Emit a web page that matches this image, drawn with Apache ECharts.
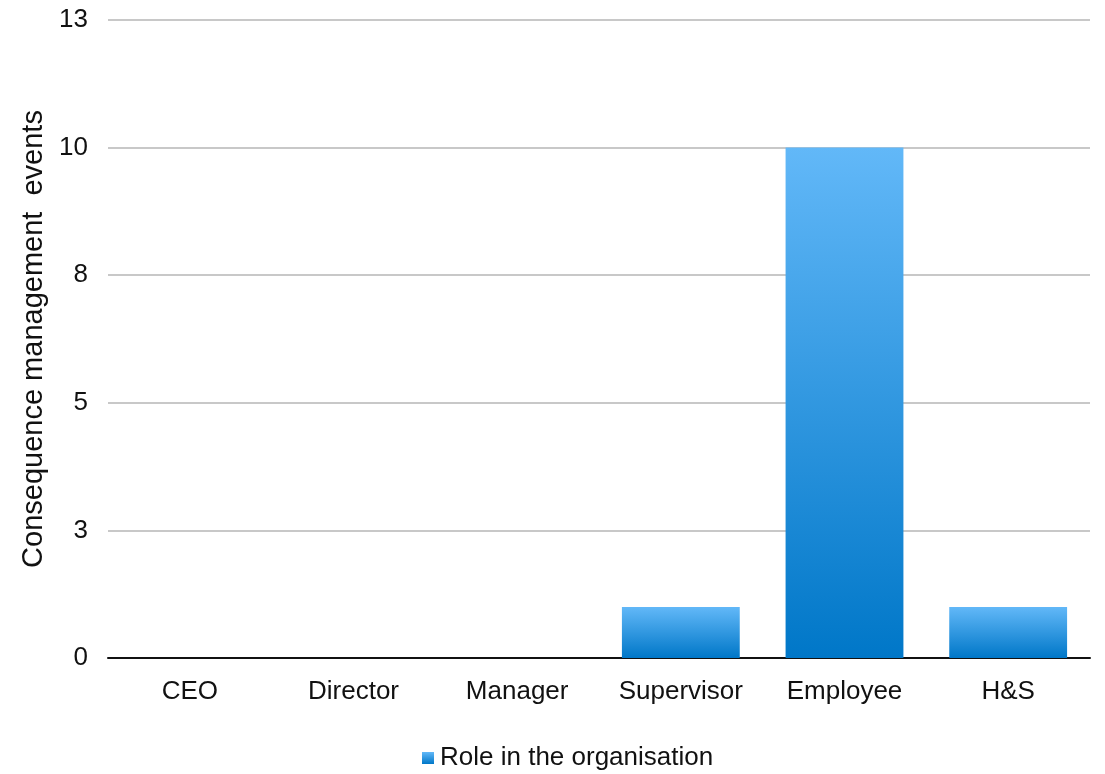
<!DOCTYPE html>
<html>
<head>
<meta charset="utf-8">
<script src="https://cdn.jsdelivr.net/npm/echarts@6/dist/echarts.min.js"></script>
<style>
html,body{margin:0;padding:0;background:#fff;}
#main{width:1105px;height:774px;}
</style>
</head>
<body>
<div id="main"></div>
<script>
var categories = ['CEO', 'Director', 'Manager', 'Supervisor', 'Employee', 'H&S'];
var values = [0, 0, 0, 1, 10, 1];
var seriesName = 'Role in the organisation';
var yAxisName = 'Consequence management  events';

var chart = echarts.init(document.getElementById('main'));
var font = '"Liberation Sans", Helvetica, Arial, sans-serif';
chart.setOption({
  animation: false,
  textStyle: { fontFamily: font },
  grid: { left: 108, right: 15, top: 20, bottom: 116 },
  legend: {
    data: [{ name: seriesName, icon: 'rect' }],
    left: 417, top: 740,
    itemWidth: 12, itemHeight: 12, itemGap: 6,
    textStyle: { fontFamily: font, fontSize: 26, color: '#111', padding: [0, 0, 0, 1] }
  },
  xAxis: {
    type: 'category',
    data: categories,
    axisLine: { lineStyle: { color: '#111', width: 2 } },
    axisTick: { show: false },
    axisLabel: { fontFamily: font, fontSize: 26, color: '#111', margin: 21 }
  },
  yAxis: {
    type: 'value',
    min: 0, max: 12.5, interval: 2.5,
    name: yAxisName,
    nameLocation: 'middle',
    nameGap: 56,
    nameTextStyle: { fontFamily: font, fontSize: 29, color: '#111' },
    axisLine: { show: false },
    axisTick: { show: false },
    axisLabel: { fontFamily: font, fontSize: 26, color: '#111', margin: 20, padding: [4, 0, 0, 0],
      formatter: function (v) { return String(Math.round(v)); } },
    splitLine: { lineStyle: { color: '#c8c8c8', width: 2 } }
  },
  series: [{
    name: seriesName,
    type: 'bar',
    data: values,
    barWidth: '72%',
    itemStyle: {
      color: new echarts.graphic.LinearGradient(0, 0, 0, 1, [
        { offset: 0, color: '#62b8f8' },
        { offset: 1, color: '#0077c8' }
      ])
    }
  }]
});
</script>
</body>
</html>
